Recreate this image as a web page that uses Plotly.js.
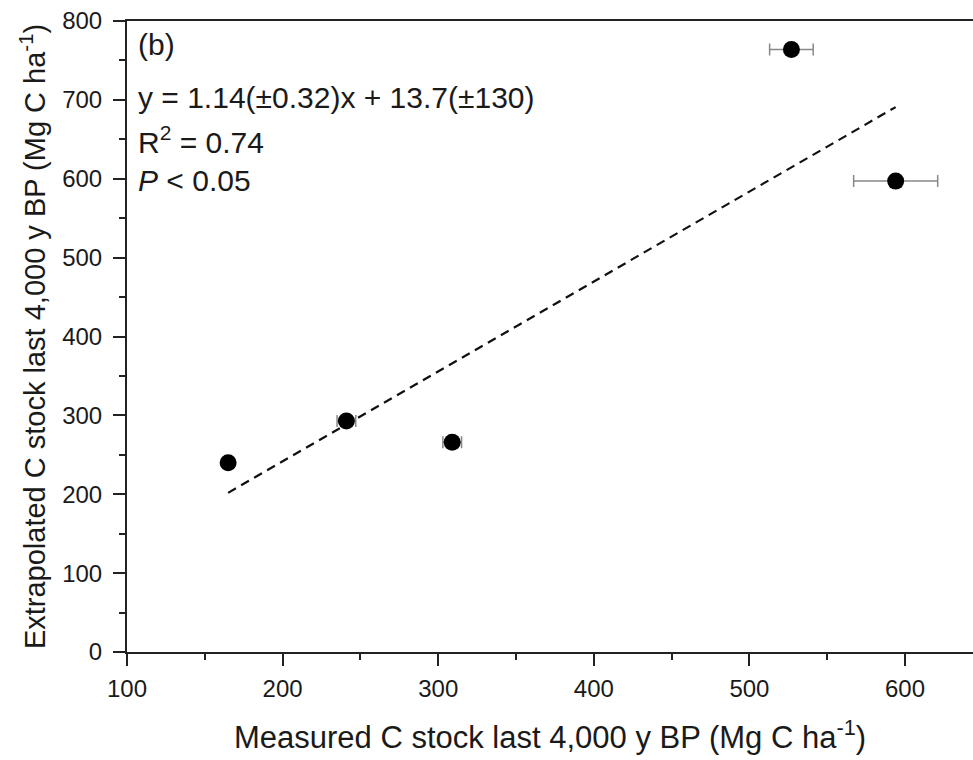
<!DOCTYPE html>
<html>
<head>
<meta charset="utf-8">
<script src="https://cdn.plot.ly/plotly-3.0.1.min.js"></script>
<style>
  html, body { margin: 0; padding: 0; background: #fff; }
  #chart { width: 973px; height: 760px; }
</style>
</head>
<body>
<div id="chart"></div>
<script>
// Measured vs. extrapolated carbon stock for the last 4,000 y BP
const measured = [165, 241, 309, 527, 594];
const measuredErr = [2, 6, 6, 14, 27];
const extrapolated = [240, 293, 266, 764, 597];

// Reported regression: y = 1.14x + 13.7
const slope = 1.14;
const intercept = 13.7;

const fitX = [Math.min(...measured), Math.max(...measured)];
const fitY = fitX.map(x => slope * x + intercept);

const labelFont = { family: '"Liberation Sans", Arial, sans-serif', color: '#1a1a1a' };

const traces = [
  {
    x: fitX, y: fitY, mode: 'lines', type: 'scatter',
    line: { color: '#111', width: 2.2, dash: '9px,6px' },
    hoverinfo: 'skip'
  },
  {
    x: measured, y: extrapolated, mode: 'markers', type: 'scatter',
    marker: { color: '#000', size: 17 },
    error_x: { type: 'data', array: measuredErr, visible: true, color: '#888', thickness: 1.5, width: 6 }
  }
];

const axisCommon = {
  showgrid: false, zeroline: false,
  showline: true, linecolor: '#222', linewidth: 2,
  ticks: 'outside', ticklen: 12, tickwidth: 2, tickcolor: '#222',
  minor: { dtick: 50, ticks: 'outside', ticklen: 6, tickwidth: 2, tickcolor: '#222', showgrid: false },
  tickfont: { size: 24 }
};

const layout = {
  width: 973, height: 760,
  margin: { l: 127, r: 0, t: 21, b: 108 },
  paper_bgcolor: '#fff', plot_bgcolor: '#fff',
  showlegend: false,
  font: Object.assign({ size: 24 }, labelFont),
  xaxis: Object.assign({}, axisCommon, {
    range: [100, 643.7],
    tickvals: [100, 200, 300, 400, 500, 600],
    mirror: true,
    ticklabelstandoff: 2,
    title: { text: 'Measured C stock last 4,000 y BP (Mg C ha<sup>-1</sup>)', font: { size: 31 }, standoff: 26 }
  }),
  yaxis: Object.assign({}, axisCommon, {
    range: [0, 800],
    tickvals: [0, 100, 200, 300, 400, 500, 600, 700, 800],
    ticklabelstandoff: 6,
    title: { text: 'Extrapolated C stock last 4,000 y BP (Mg C ha<sup>-1</sup>)', font: { size: 29 }, standoff: 8 }
  }),
  annotations: [
    { x: 106, y: 770, xref: 'x', yref: 'y', xanchor: 'left', yanchor: 'middle', showarrow: false,
      text: '(b)', font: { size: 30 } },
    { x: 106, y: 703, xref: 'x', yref: 'y', xanchor: 'left', yanchor: 'middle', showarrow: false,
      text: 'y = 1.14(±0.32)x + 13.7(±130)', font: { size: 30 } },
    { x: 106, y: 649, xref: 'x', yref: 'y', xanchor: 'left', yanchor: 'middle', showarrow: false,
      text: 'R<sup>2</sup> = 0.74', font: { size: 30 } },
    { x: 106, y: 598, xref: 'x', yref: 'y', xanchor: 'left', yanchor: 'middle', showarrow: false,
      text: '<i>P</i> &lt; 0.05', font: { size: 30 } }
  ]
};

Plotly.newPlot('chart', traces, layout, { staticPlot: true, displayModeBar: false });
</script>
</body>
</html>
